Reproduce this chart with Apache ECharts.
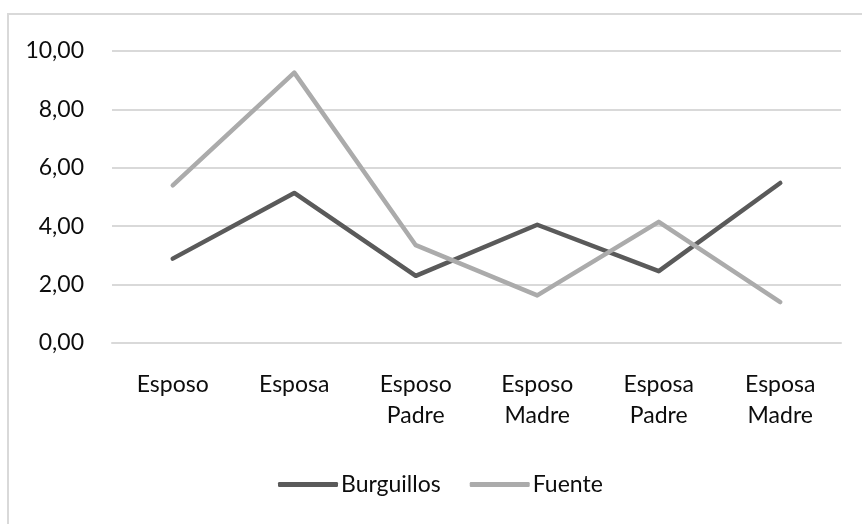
<!DOCTYPE html>
<html>
<head>
<meta charset="utf-8">
<script src="https://cdn.jsdelivr.net/npm/echarts@6/dist/echarts.min.js"></script>
<style>
  html, body { margin: 0; padding: 0; background: #fff; }
  #chart { width: 862px; height: 524px; }
</style>
</head>
<body>
<div id="chart"></div>
<script>
// Categories (two-line labels) and series values
const categories = ['Esposo', 'Esposa', 'Esposo\nPadre', 'Esposo\nMadre', 'Esposa\nPadre', 'Esposa\nMadre'];
const burguillos = [2.89, 5.14, 2.30, 4.05, 2.46, 5.48];
const fuente = [5.40, 9.26, 3.35, 1.63, 4.15, 1.40];
const yTicks = { min: 0, max: 10, interval: 2 };

const font = 'Lato, "Open Sans", sans-serif';
const textColor = '#0d0d0d';
const gridColor = '#d9d9d9';

const chart = echarts.init(document.getElementById('chart'), null, { renderer: 'canvas' });

chart.setOption({
  animation: false,
  backgroundColor: '#ffffff',
  graphic: [{
    type: 'rect',
    shape: { x: 8, y: 14, width: 900, height: 600 },
    style: { fill: 'none', stroke: gridColor, lineWidth: 2 },
    silent: true
  }],
  grid: { left: 112, right: 21, top: 51, height: 292 },
  legend: {
    data: ['Burguillos', 'Fuente'],
    left: 273,
    top: 468,
    icon: 'roundRect',
    itemWidth: 60,
    itemHeight: 5,
    itemGap: 29,
    textStyle: { fontFamily: font, fontSize: 23, color: textColor, padding: [0, 0, 0, -2] }
  },
  xAxis: {
    type: 'category',
    data: categories,
    boundaryGap: true,
    axisLine: { show: true, lineStyle: { color: gridColor, width: 2 } },
    axisTick: { show: false },
    axisLabel: {
      fontFamily: font, fontSize: 23, color: textColor,
      lineHeight: 31, margin: 26, interval: 0
    }
  },
  yAxis: {
    type: 'value',
    min: yTicks.min, max: yTicks.max, interval: yTicks.interval,
    axisLine: { show: false },
    axisTick: { show: false },
    splitLine: { lineStyle: { color: gridColor, width: 2 } },
    axisLabel: {
      fontFamily: font, fontSize: 23, color: textColor, margin: 28,
      formatter: v => v.toFixed(2).replace('.', ',')
    }
  },
  series: [
    {
      name: 'Burguillos', type: 'line', data: burguillos,
      symbol: 'none', color: '#5a5a5a',
      lineStyle: { width: 4.5, color: '#5a5a5a', cap: 'round', join: 'round' }
    },
    {
      name: 'Fuente', type: 'line', data: fuente,
      symbol: 'none', color: '#ababab',
      lineStyle: { width: 4.5, color: '#ababab', cap: 'round', join: 'round' }
    }
  ]
});
</script>
</body>
</html>
